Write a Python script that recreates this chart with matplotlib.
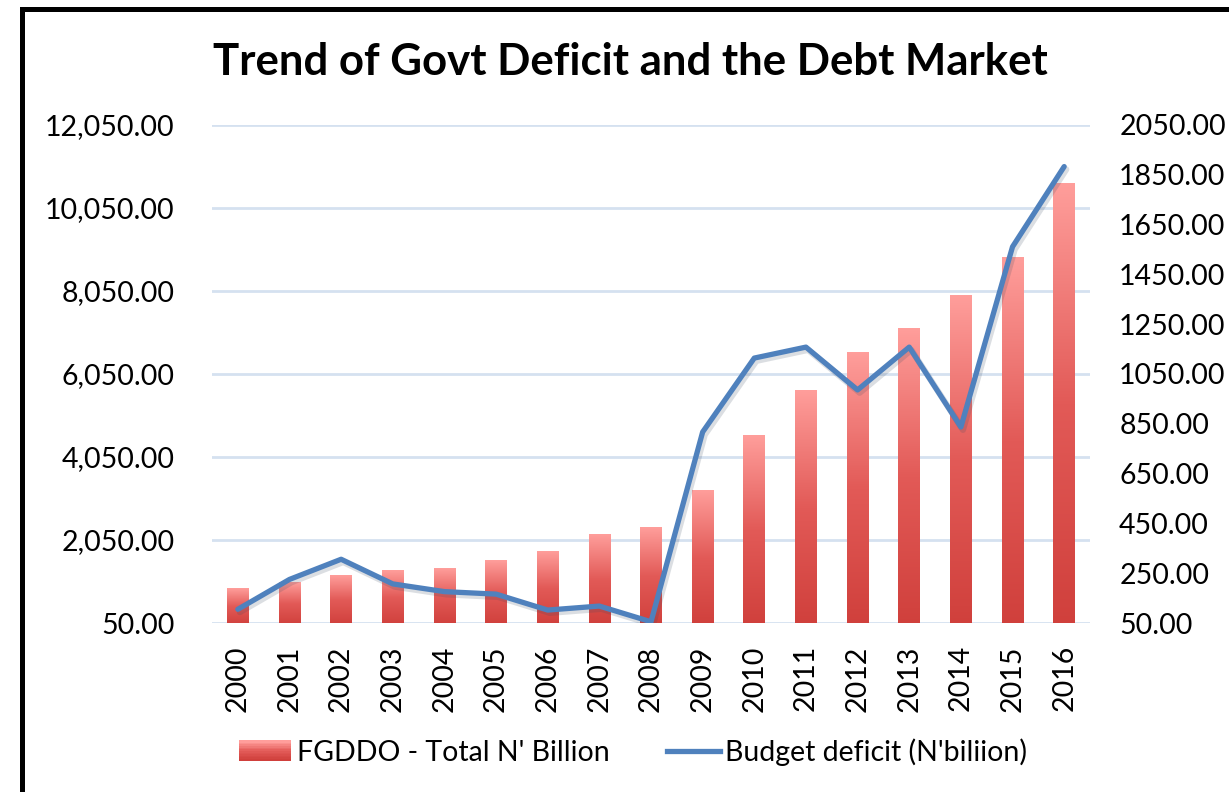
import matplotlib
matplotlib.use("Agg")
import matplotlib.pyplot as plt
import numpy as np
from matplotlib.colors import LinearSegmentedColormap
from matplotlib.legend_handler import HandlerBase
from matplotlib.lines import Line2D
from matplotlib.patches import Patch, Rectangle

plt.rcParams["font.family"] = ["Lato", "DejaVu Sans"]

years = [str(y) for y in range(2000, 2017)]
fgddo = [893, 1021, 1183, 1327, 1375, 1544, 1761, 2171, 2340, 3231,
         4557, 5641, 6557, 7135, 7931, 8847, 10630]
deficit = [105, 225, 306, 207, 176, 166, 102, 118, 55, 817,
           1114, 1158, 986, 1158, 837, 1561, 1883]

left_ticks = [50, 2050, 4050, 6050, 8050, 10050, 12050]
right_ticks = [50, 250, 450, 650, 850, 1050, 1250, 1450, 1650, 1850, 2050]

PINK = "#FF9E9B"
RED = "#D0403C"
BLUE = "#4F81BD"
GRID = "#D5E1F0"

bar_cmap = LinearSegmentedColormap.from_list("bar", [RED, "#E25A57", PINK])


class GradientHandler(HandlerBase):
    # draws the legend key as stacked strips, red at bottom to pink on top
    def create_artists(self, legend, orig_handle, xdescent, ydescent,
                       width, height, fontsize, trans):
        n = 12
        out = []
        for i in range(n):
            r = Rectangle((-xdescent, -ydescent + i * height / n), width, height / n + 0.3,
                          facecolor=bar_cmap(i / (n - 1)), edgecolor="none", transform=trans)
            out.append(r)
        return out


fig = plt.figure(figsize=(12.29, 7.92), dpi=100)
ax = fig.add_axes([212 / 1229, 1 - 623 / 792, (1090 - 212) / 1229, (623 - 125) / 792])
ax2 = ax.twinx()

x = np.arange(len(years))
bars = ax.bar(x, fgddo, width=0.42, bottom=0, color="none", edgecolor="none", zorder=2)
grad = np.linspace(0, 1, 256).reshape(-1, 1)
for b in bars:
    x0, w, h = b.get_x(), b.get_width(), b.get_height()
    ax.imshow(grad, cmap=bar_cmap, origin="lower", aspect="auto",
              extent=[x0, x0 + w, 0, h], zorder=2)

ax.set_xlim(-0.5, len(years) - 0.5)
ax.set_ylim(50, 12050)
ax.set_yticks(left_ticks)
ax.set_yticklabels([f"{v:,.2f}" for v in left_ticks])
ax.set_xticks(x)
ax.set_xticklabels(years, rotation=90)
ax.grid(axis="y", color=GRID, linewidth=2, zorder=0)
ax.set_axisbelow(True)

ax2.plot(x, deficit, color="#3a4a60", linewidth=4.5, alpha=0.18,
         solid_capstyle="round", solid_joinstyle="round",
         transform=ax2.transData + matplotlib.transforms.ScaledTranslation(1.5 / 72, -2 / 72, fig.dpi_scale_trans))
ax2.plot(x, deficit, color=BLUE, linewidth=3.8, solid_capstyle="round", solid_joinstyle="round")
ax2.set_ylim(50, 2050)
ax2.set_yticks(right_ticks)
ax2.set_yticklabels([f"{v:.2f}" for v in right_ticks])

for a in (ax, ax2):
    for s in a.spines.values():
        s.set_visible(False)
    a.tick_params(length=0, labelsize=20.5)
ax.tick_params(axis="y", pad=27)
ax.tick_params(axis="x", pad=16)
ax2.tick_params(axis="y", pad=21)

fig.text(630 / 1229, 1 - 62 / 792, "Trend of Govt Deficit and the Debt Market",
         ha="center", va="center", fontsize=31.5, fontweight="bold")

handles = [Patch(label="FGDDO - Total N' Billion"),
           Line2D([], [], color=BLUE, linewidth=3.8, label="Budget deficit (N'biliion)")]
fig.legend(handles=handles, loc="center", bbox_to_anchor=(633 / 1229, 1 - 752 / 792),
           ncol=2, frameon=False, fontsize=20.5, handlelength=1.85, handletextpad=0.2,
           columnspacing=2.0, handler_map={Patch: GradientHandler()})

frame = Rectangle((21.5 / 1229, -0.05), 1.1, 1.05 - 9.5 / 792, transform=fig.transFigure,
                  fill=False, edgecolor="black", linewidth=3.6)
fig.add_artist(frame)

fig.savefig("out.png", dpi=100)
